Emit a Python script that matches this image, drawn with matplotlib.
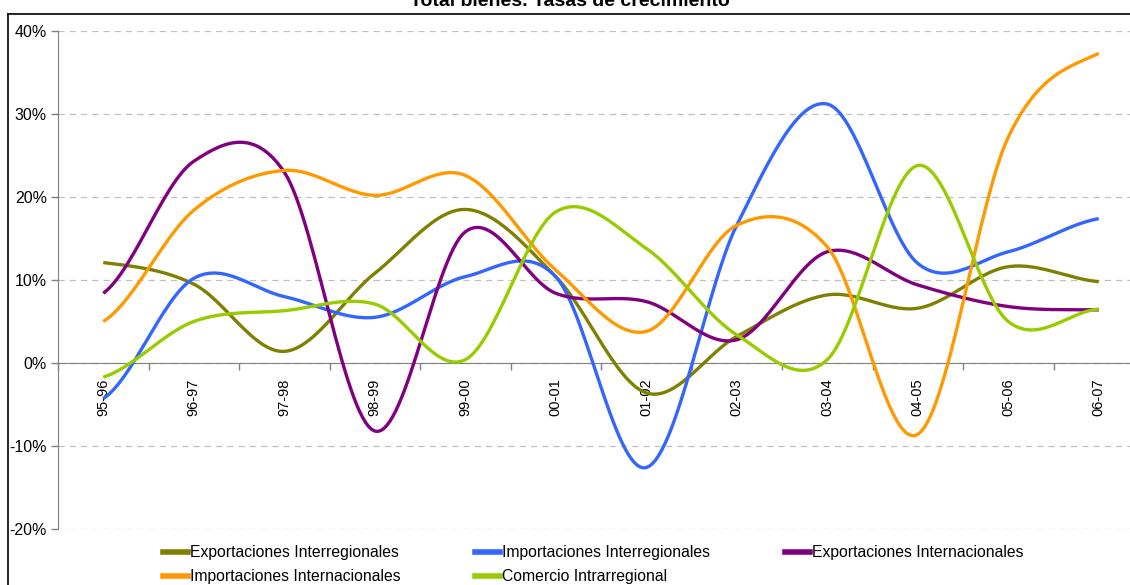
import numpy as np
import matplotlib
matplotlib.use("Agg")
import matplotlib.pyplot as plt
from matplotlib.lines import Line2D

plt.rcParams['font.family'] = ['Liberation Sans', 'DejaVu Sans']

periods = ['95-96', '96-97', '97-98', '98-99', '99-00', '00-01',
           '01-02', '02-03', '03-04', '04-05', '05-06', '06-07']

exp_interreg = [12.1, 9.5, 1.4, 10.8, 18.5, 10.4, -3.6, 3.2, 8.2, 6.6, 11.6, 9.8]
imp_interreg = [-4.3, 10.2, 8.0, 5.5, 10.4, 10.4, -12.6, 16.6, 31.2, 12.0, 13.4, 17.4]
exp_internac = [8.4, 24.3, 23.0, -8.2, 15.8, 8.4, 7.4, 2.8, 13.4, 9.4, 6.8, 6.4]
imp_internac = [5.0, 18.4, 23.2, 20.2, 22.6, 11.2, 3.8, 16.6, 14.0, -8.6, 27.2, 37.3]
comercio_intra = [-1.7, 5.0, 6.3, 7.1, 0.4, 18.2, 13.8, 3.4, 0.4, 23.8, 5.0, 6.5]

series = [
    ('Exportaciones Interregionales', exp_interreg, '#808000'),
    ('Importaciones Interregionales', imp_interreg, '#3366FF'),
    ('Exportaciones Internacionales', exp_internac, '#800080'),
    ('Importaciones Internacionales', imp_internac, '#FF9900'),
    ('Comercio Intrarregional', comercio_intra, '#99CC00'),
]


def smooth(y, steps=30):
    # Excel-style smoothed line (Catmull-Rom through the points)
    y = np.asarray(y, dtype=float)
    n = len(y)
    xs, ys = [], []
    for i in range(n - 1):
        p0 = y[max(i - 1, 0)]
        p1, p2 = y[i], y[i + 1]
        p3 = y[min(i + 2, n - 1)]
        m1 = (p2 - p0) / 2
        m2 = (p3 - p1) / 2
        t = np.linspace(0, 1, steps, endpoint=(i == n - 2))
        h00 = 2 * t**3 - 3 * t**2 + 1
        h10 = t**3 - 2 * t**2 + t
        h01 = -2 * t**3 + 3 * t**2
        h11 = t**3 - t**2
        xs.append(i + t)
        ys.append(h00 * p1 + h10 * m1 + h01 * p2 + h11 * m2)
    return np.concatenate(xs), np.concatenate(ys)


W, H = 1130, 585
fig = plt.figure(figsize=(W / 100, H / 100), dpi=100)
ax = fig.add_axes([58 / W, (H - 529) / H, (W - 58) / W, 498 / H])

x = np.arange(len(periods))
lines = {}
for name, vals, col in series:
    sx, sy = smooth(vals)
    ln, = ax.plot(sx, sy, color=col, lw=2.4, solid_capstyle='butt', label=name, zorder=3)
    lines[name] = ln

ax.set_yticks(np.arange(-20, 41, 10))
ax.set_yticklabels([f'{v}%' for v in range(-20, 41, 10)], fontsize=11.5)
ax.yaxis.grid(True, color='#C0C0C0', linestyle=(0, (5, 4)), lw=0.9)
ax.set_axisbelow(True)

for s in ['top', 'right']:
    ax.spines[s].set_visible(False)
ax.spines['left'].set_color('#808080')
ax.spines['bottom'].set_color('#808080')
ax.spines['bottom'].set_position(('data', 0))
ax.tick_params(axis='y', colors='#808080', length=5, width=1, labelcolor='black', pad=3)

ax.set_xticks(x)
ax.set_xticklabels(periods, rotation=90, fontsize=10.5, va='top')
ax.set_xticks(np.arange(-0.5, len(periods), 1), minor=True)
ax.tick_params(axis='x', which='major', length=0, pad=11)
ax.tick_params(axis='x', which='minor', length=5, width=1, colors='#808080')

# limits after ticks so set_xticks cannot widen them
ax.set_ylim(-20, 40)
ax.set_xlim(-0.5, -0.5 + (W - 58) / 90.5)

order = ['Exportaciones Interregionales', 'Importaciones Internacionales',
         'Importaciones Interregionales', 'Comercio Intrarregional',
         'Exportaciones Internacionales']
handles = [Line2D([], [], color=lines[k].get_color(), lw=4) for k in order]
fig.legend(handles, order, ncol=3, loc='upper left',
           bbox_to_anchor=(163 / W, 1 - 545 / H), frameon=False,
           fontsize=11.3, handlelength=1.6, handletextpad=0.12,
           columnspacing=4.75, labelspacing=0.58, borderpad=0, borderaxespad=0)

# title sits above the chart frame, mostly clipped like the source image
fig.text(570 / W, 1 - 6 / H, 'Total bienes. Tasas de crecimiento',
         ha='center', va='baseline', fontsize=14, fontweight='bold')

# outer chart frame
fig.add_artist(Line2D([8 / W, 8 / W], [0, 1 - 14 / H], color='black', lw=1.2,
                      transform=fig.transFigure))
fig.add_artist(Line2D([8 / W, 1], [1 - 14 / H, 1 - 14 / H], color='black', lw=1.2,
                      transform=fig.transFigure))

fig.savefig('out.png', dpi=100)
